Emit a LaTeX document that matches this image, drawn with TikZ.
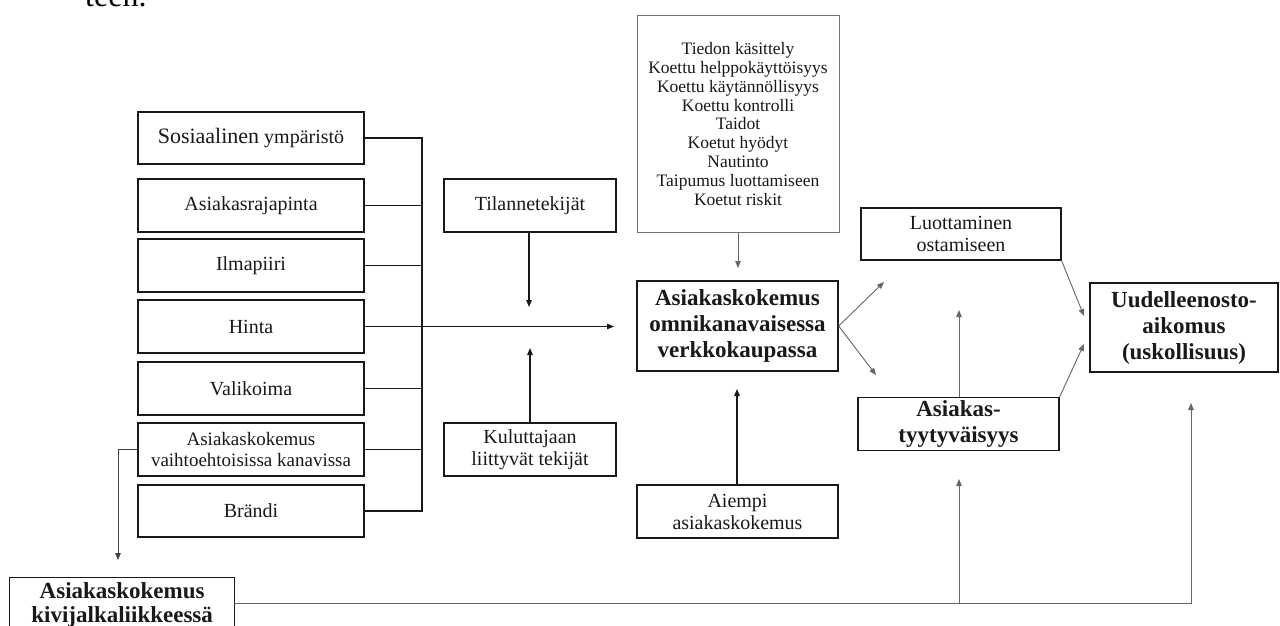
\documentclass[tikz,border=0pt]{standalone}
\usepackage{fontspec}
\setmainfont{Liberation Serif}
\usetikzlibrary{arrows.meta,calc}
\begin{document}
\begin{tikzpicture}[x=1pt,y=-1pt,
  box/.style={draw=black!90,line width=1.3pt,rectangle,inner sep=0pt,align=center,
    font=\fontsize{20}{22}\selectfont,text=black!90},
  lbox/.style={box,minimum width=226pt,minimum height=53pt},
  bbox/.style={box,font=\fontsize{23}{26}\selectfont\bfseries},
  gbox/.style={box,draw=black!55,line width=1pt},
  conn/.style={line width=1.2pt,draw=black!90},
  gconn/.style={line width=0.9pt,draw=black!60},
  tip/.style={-{Triangle[length=7pt,width=5.5pt]}},
]
\useasboundingbox (0,0) rectangle (1280,626);
\fill[white] (0,0) rectangle (1280,626);

\node[anchor=base west,inner sep=0pt,font=\fontsize{32}{36}\selectfont] (teen) at (85,7) {teen.};

% left column
\node[lbox,minimum height=52pt] (soc) at (251,138) {{\fontsize{22}{24}\selectfont Sosiaalinen} ympäristö};
\node[lbox] (asr) at (251,205.5) {Asiakasrajapinta};
\node[lbox] (ilm) at (251,265.5) {Ilmapiiri};
\node[lbox] (hin) at (251,326.5) {Hinta};
\node[lbox] (val) at (251,388.5) {Valikoima};
\node[lbox,font=\fontsize{19}{21.7}\selectfont] (alt) at (251,449.5) {Asiakaskokemus\\vaihtoehtoisissa kanavissa};
\node[lbox,minimum height=52pt] (bra) at (251,511) {Brändi};

% middle
\node[box,minimum width=172pt,minimum height=53pt] (til) at (530,205.5) {Tilannetekijät};
\node[box,minimum width=172pt,minimum height=53pt] (kul) at (530,449.5) {Kuluttajaan\\liittyvät tekijät};
\node[gbox,minimum width=202pt,minimum height=216pt,font=\fontsize{17.5}{18.9}\selectfont] (tie) at (738,124)
  {Tiedon käsittely\\Koettu helppokäyttöisyys\\Koettu käytännöllisyys\\Koettu kontrolli\\Taidot\\Koetut hyödyt\\Nautinto\\Taipumus luottamiseen\\Koetut riskit};
\node[bbox,minimum width=201pt,minimum height=90pt] (omn) at (737.5,326) {Asiakaskokemus\\omnikanavaisessa\\verkkokaupassa};
\node[box,minimum width=201pt,minimum height=53pt] (aie) at (737.5,511.5) {Aiempi\\asiakaskokemus};

% right
\node[box,line width=1.1pt,minimum width=200pt,minimum height=52pt] (luo) at (961,234) {Luottaminen\\ostamiseen};
\node[bbox,minimum width=201pt,minimum height=53pt] (tyy) at (958.5,424) {Asiakas-\\tyytyväisyys};
\node[bbox,minimum width=188pt,minimum height=89pt] (uud) at (1184,327.5) {Uudelleenosto-\\aikomus\\(uskollisuus)};

% bottom left
\node[bbox,font=\fontsize{23}{24}\selectfont\bfseries,minimum width=225pt,minimum height=90pt,anchor=north west] (kiv) at (9,577)
  {Asiakaskokemus\\kivijalkaliikkeessä\\[10pt]\strut};

% connectors: left bus
\coordinate (busT) at (422,138);
\coordinate (busB) at (422,511);
\draw[conn] (soc.east) -- (busT) -- (busB) -- (bra.east);
\foreach \n in {asr,ilm,val,alt} \draw[conn] (\n.east) -- (\n.east -| busT);
\coordinate (hinTip) at (614,326.5);
\draw[conn,tip] (hin.east) -- (hinTip);

\coordinate (tilTip) at (529,307);
\draw[conn,tip] (til.south -| tilTip) -- (tilTip);
\coordinate (kulTip) at (530,348);
\draw[conn,tip] (kul.north) -- (kulTip);

\coordinate (tieTip) at (738,268);
\draw[gconn,tip] (tie.south) -- (tieTip);
\coordinate (aieTip) at (737,389);
\draw[conn,tip] (aie.north -| aieTip) -- (aieTip);

\coordinate (o1) at (884,282);
\coordinate (o2) at (876,375);
\draw[gconn,tip] (omn.east) -- (o1);
\draw[gconn,tip] (omn.east) -- (o2);

\coordinate (tyyTip) at (959,310);
\draw[gconn,tip] (tyy.north -| tyyTip) -- (tyyTip);
\coordinate (u1) at (1084,316);
\coordinate (u2) at (1084,344);
\draw[gconn,tip] (luo.south east) -- (u1);
\draw[gconn,tip] (tyy.north east) -- (u2);

% left down arrow
\coordinate (altC) at (118,449.5);
\coordinate (altTip) at (118,560);
\draw[gconn,draw=black!75,tip] (alt.west) -- (altC) -- (altTip);

% bottom line
\coordinate (kivE) at (234,603);
\coordinate (bM) at (959,603);
\coordinate (bR) at (1191,603);
\coordinate (bMTip) at (959,479);
\coordinate (bRTip) at (1191,403);
\draw[gconn,tip] (kivE) -- (bR) -- (bRTip);
\draw[gconn,tip] (bM) -- (bMTip);
\end{tikzpicture}
\end{document}
